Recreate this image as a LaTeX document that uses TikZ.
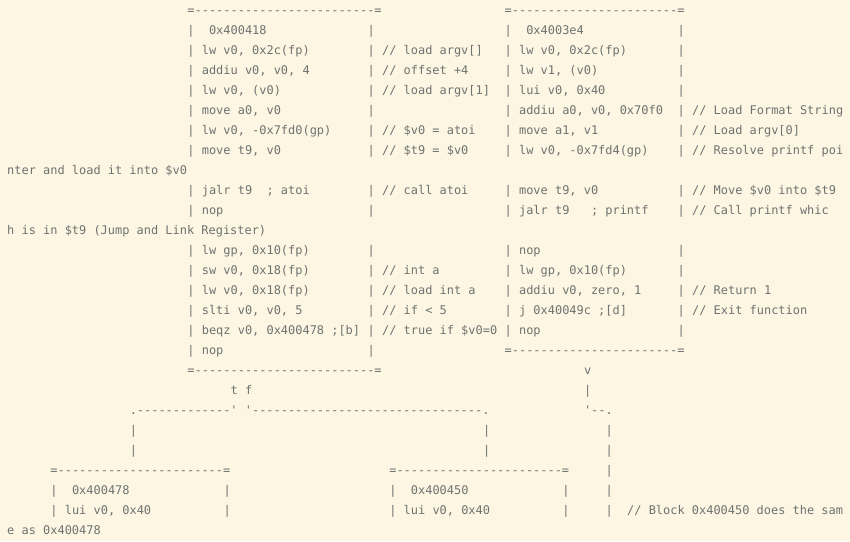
\documentclass[tikz,border=0pt]{standalone}
\usepackage{fontspec}
\newfontfamily\asciifont{DejaVu Sans Mono}
\definecolor{paper}{HTML}{FDF6E3}
\definecolor{ink}{HTML}{6E7370}
\tikzset{code/.style={inner sep=0pt, anchor=mid west, text=ink, font=\asciifont\fontsize{11.95}{14}\selectfont}}
% one piece of the ascii art at column #1, row #2
\newcommand{\seg}[3]{\node[code] (s#2-#1) at ({7pt+#1*7.21pt},{-12pt-#2*20pt}) {#3};}

\begin{document}
\begin{tikzpicture}
\fill[paper] (0,0) rectangle (850pt,-541pt);
\useasboundingbox (0,0) rectangle (850pt,-541pt);
% top blocks
\seg{25}{0}{=-------------------------=} \seg{69}{0}{=-----------------------=}
\seg{25}{1}{|~~0x400418} \seg{50}{1}{|} \seg{69}{1}{|~~0x4003e4} \seg{93}{1}{|}
\seg{25}{2}{| lw v0, 0x2c(fp)} \seg{50}{2}{| // load argv[]} \seg{69}{2}{| lw v0, 0x2c(fp)} \seg{93}{2}{|}
\seg{25}{3}{| addiu v0, v0, 4} \seg{50}{3}{| // offset +4} \seg{69}{3}{| lw v1, (v0)} \seg{93}{3}{|}
\seg{25}{4}{| lw v0, (v0)} \seg{50}{4}{| // load argv[1]} \seg{69}{4}{| lui v0, 0x40} \seg{93}{4}{|}
\seg{25}{5}{| move a0, v0} \seg{50}{5}{|} \seg{69}{5}{| addiu a0, v0, 0x70f0} \seg{93}{5}{| // Load Format String}
\seg{25}{6}{| lw v0, -0x7fd0(gp)} \seg{50}{6}{| // \$v0 = atoi} \seg{69}{6}{| move a1, v1} \seg{93}{6}{| // Load argv[0]}
\seg{25}{7}{| move t9, v0} \seg{50}{7}{| // \$t9 = \$v0} \seg{69}{7}{| lw v0, -0x7fd4(gp)} \seg{93}{7}{| // Resolve printf poi}
\seg{0}{8}{nter and load it into \$v0}
\seg{25}{9}{| jalr t9~~; atoi} \seg{50}{9}{| // call atoi} \seg{69}{9}{| move t9, v0} \seg{93}{9}{| // Move \$v0 into \$t9}
\seg{25}{10}{| nop} \seg{50}{10}{|} \seg{69}{10}{| jalr t9~~~; printf} \seg{93}{10}{| // Call printf whic}
\seg{0}{11}{h is in \$t9 (Jump and Link Register)}
\seg{25}{12}{| lw gp, 0x10(fp)} \seg{50}{12}{|} \seg{69}{12}{| nop} \seg{93}{12}{|}
\seg{25}{13}{| sw v0, 0x18(fp)} \seg{50}{13}{| // int a} \seg{69}{13}{| lw gp, 0x10(fp)} \seg{93}{13}{|}
\seg{25}{14}{| lw v0, 0x18(fp)} \seg{50}{14}{| // load int a} \seg{69}{14}{| addiu v0, zero, 1} \seg{93}{14}{| // Return 1}
\seg{25}{15}{| slti v0, v0, 5} \seg{50}{15}{| // if < 5} \seg{69}{15}{| j 0x40049c ;[d]} \seg{93}{15}{| // Exit function}
\seg{25}{16}{| beqz v0, 0x400478 ;[b]} \seg{50}{16}{| // true if \$v0=0} \seg{69}{16}{| nop} \seg{93}{16}{|}
\seg{25}{17}{| nop} \seg{50}{17}{|} \seg{69}{17}{=-----------------------=}
\seg{25}{18}{=-------------------------=} \seg{80}{18}{v}
% branches
\seg{31}{19}{t f} \seg{80}{19}{|}
\seg{17}{20}{.-------------' '--------------------------------.} \seg{80}{20}{'--.}
\seg{17}{21}{|} \seg{66}{21}{|} \seg{83}{21}{|}
\seg{17}{22}{|} \seg{66}{22}{|} \seg{83}{22}{|}
% bottom blocks
\seg{6}{23}{=-----------------------=} \seg{53}{23}{=-----------------------=} \seg{83}{23}{|}
\seg{6}{24}{|~~0x400478} \seg{30}{24}{|} \seg{53}{24}{|~~0x400450} \seg{77}{24}{|} \seg{83}{24}{|}
\seg{6}{25}{| lui v0, 0x40} \seg{30}{25}{|} \seg{53}{25}{| lui v0, 0x40} \seg{77}{25}{|} \seg{83}{25}{|~~// Block 0x400450 does the sam}
\seg{0}{26}{e as 0x400478}
\end{tikzpicture}
\end{document}
